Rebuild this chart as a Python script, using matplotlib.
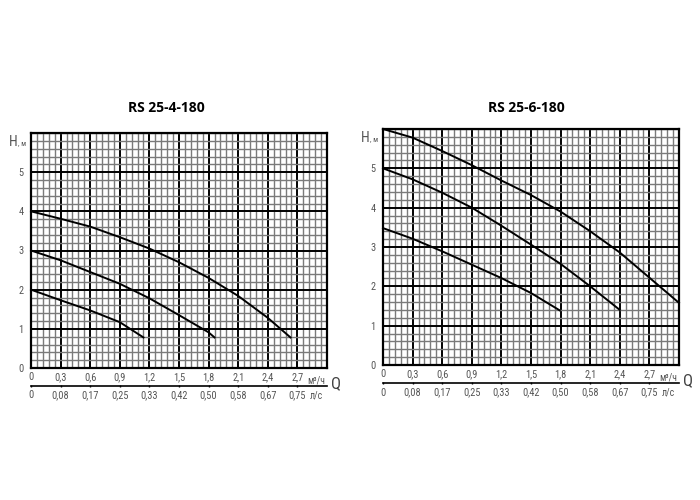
import matplotlib.pyplot as plt
from matplotlib import font_manager
from matplotlib.ticker import MultipleLocator

# Q axis labels (m3/h and l/s rows share positions)
q_ticks = [0, 0.3, 0.6, 0.9, 1.2, 1.5, 1.8, 2.1, 2.4, 2.7]
q_labels = ["0", "0,3", "0,6", "0,9", "1,2", "1,5", "1,8", "2,1", "2,4", "2,7"]
ls_labels = ["0", "0,08", "0,17", "0,25", "0,33", "0,42", "0,50", "0,58", "0,67", "0,75"]
h_ticks = [0, 1, 2, 3, 4, 5]

# RS 25-4-180 curves (Q m3/h, H m)
a_q1 = [0, 0.3, 0.6, 0.9, 1.2, 1.5, 1.8, 2.1, 2.4, 2.63]
a_h1 = [4.0, 3.81, 3.61, 3.34, 3.05, 2.70, 2.30, 1.84, 1.28, 0.78]
a_q2 = [0, 0.3, 0.6, 0.9, 1.2, 1.5, 1.8, 1.86]
a_h2 = [3.0, 2.75, 2.45, 2.15, 1.78, 1.35, 0.91, 0.78]
a_q3 = [0, 0.3, 0.6, 0.9, 1.14]
a_h3 = [2.0, 1.73, 1.47, 1.17, 0.78]

# RS 25-6-180 curves
b_q1 = [0, 0.3, 0.6, 0.9, 1.2, 1.5, 1.8, 2.1, 2.4, 2.7, 3.0]
b_h1 = [6.0, 5.78, 5.44, 5.08, 4.69, 4.32, 3.90, 3.40, 2.86, 2.22, 1.58]
b_q2 = [0, 0.3, 0.6, 0.9, 1.2, 1.5, 1.8, 2.1, 2.4]
b_h2 = [5.0, 4.72, 4.38, 4.0, 3.54, 3.06, 2.57, 2.0, 1.40]
b_q3 = [0, 0.3, 0.6, 0.9, 1.2, 1.5, 1.79]
b_h3 = [3.48, 3.21, 2.89, 2.55, 2.21, 1.83, 1.39]


def pick_font(names):
    for name in names:
        try:
            font_manager.findfont(name, fallback_to_default=False)
            return [name, "DejaVu Sans"]
        except ValueError:
            continue
    return ["DejaVu Sans"]


LABEL_FONT = pick_font(["Liberation Sans Narrow", "Roboto Condensed", "Noto Sans"])
TITLE_FONT = pick_font(["Open Sans", "Noto Sans"])
GREY = "#555555"


def draw_chart(fig, rect, title, title_x, curves):
    ax = fig.add_axes(rect)
    ax.set_xlim(0, 3.0)
    ax.set_ylim(0, 6)
    ax.xaxis.set_minor_locator(MultipleLocator(0.06))
    ax.yaxis.set_minor_locator(MultipleLocator(0.2))
    ax.set_xticks(q_ticks)
    ax.set_xticklabels(q_labels)
    ax.set_yticks(h_ticks)
    ax.grid(which="minor", color="#7a7a7a", linewidth=1.0)
    ax.grid(which="major", color="black", linewidth=1.4)
    ax.set_axisbelow(True)
    for s in ax.spines.values():
        s.set_linewidth(1.6)
    ax.tick_params(which="both", length=0)
    ax.tick_params(axis="x", pad=3, labelsize=7.5, labelcolor=GREY)
    ax.tick_params(axis="y", pad=5.5, labelsize=7.5, labelcolor=GREY)
    for lab in ax.get_xticklabels() + ax.get_yticklabels():
        lab.set_family(LABEL_FONT)

    for q, h in curves:
        ax.plot(q, h, color="black", linewidth=1.4, clip_on=False, zorder=3)

    sec = ax.secondary_xaxis(-0.078)
    sec.set_xticks(q_ticks)
    sec.set_xticklabels(ls_labels)
    sec.tick_params(length=2, width=1, direction="inout", pad=2,
                    labelsize=7.5, labelcolor=GREY)
    sec.spines["bottom"].set_linewidth(1.2)
    for lab in sec.get_xticklabels():
        lab.set_family(LABEL_FONT)

    xt = ax.get_xaxis_transform()
    ax.text(2.8, -0.052, "м³/ч", transform=xt, fontsize=7, color=GREY,
            family=LABEL_FONT, va="center", ha="left")
    ax.text(2.82, -0.115, "л/с", transform=xt, fontsize=7, color=GREY,
            family=LABEL_FONT, va="center", ha="left")
    ax.text(3.04, -0.066, "Q", transform=xt, fontsize=12, color="#444444",
            family=LABEL_FONT, va="center", ha="left")
    ax.text(-0.047, 0.96, "H", transform=ax.transAxes, fontsize=10,
            color=GREY, family=LABEL_FONT, va="center", ha="right")
    ax.text(-0.045, 0.955, ", м", transform=ax.transAxes, fontsize=5.5,
            color=GREY, family=LABEL_FONT, va="center", ha="left")
    fig.text(title_x, 392 / 500, title, fontsize=10, fontweight="bold",
             family=TITLE_FONT, ha="center", va="center")
    return ax


fig = plt.figure(figsize=(7, 5), dpi=100)
draw_chart(fig, [31 / 700, 132 / 500, 296 / 700, 235 / 500], "RS 25-4-180",
           166 / 700, [(a_q1, a_h1), (a_q2, a_h2), (a_q3, a_h3)])
draw_chart(fig, [383 / 700, 135 / 500, 296 / 700, 236 / 500], "RS 25-6-180",
           526 / 700, [(b_q1, b_h1), (b_q2, b_h2), (b_q3, b_h3)])
fig.savefig("out.png", dpi=100)
